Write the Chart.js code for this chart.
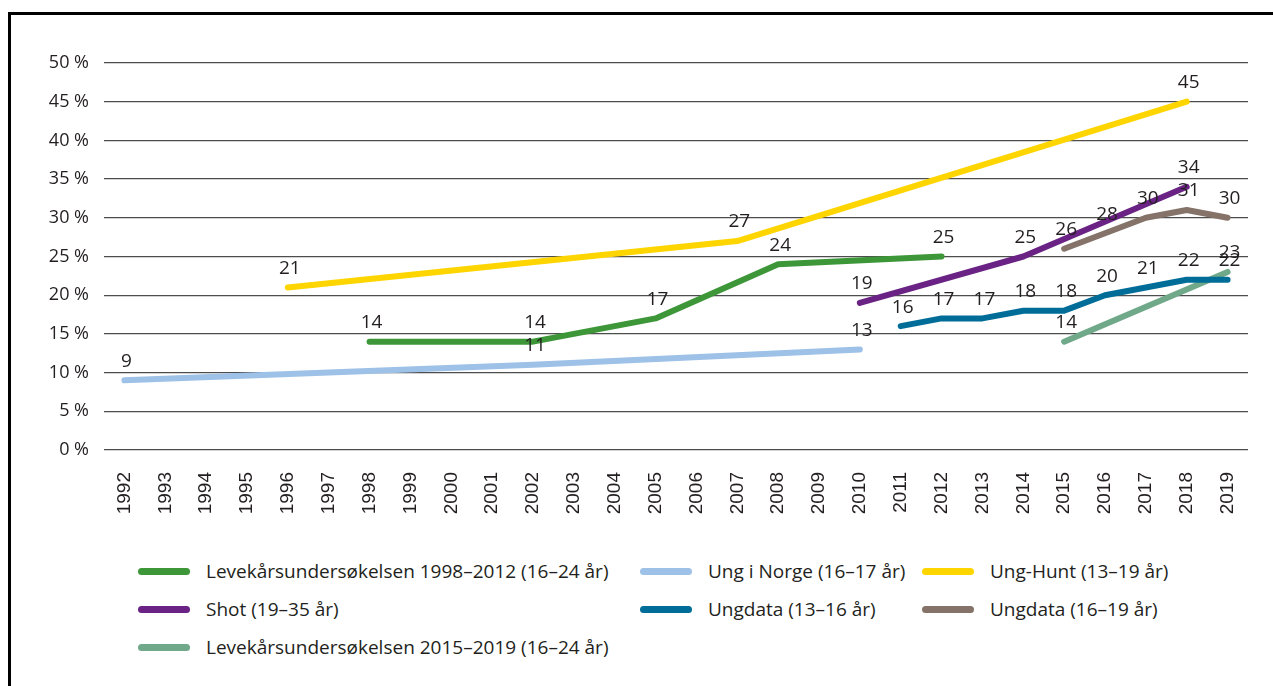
<!DOCTYPE html>
<html>
<head>
<meta charset="utf-8">
<script src="https://cdn.jsdelivr.net/npm/chart.js@4/dist/chart.umd.min.js"></script>
<style>
  html, body { margin: 0; padding: 0; background: #fff; }
  body { width: 1273px; height: 686px; position: relative; overflow: hidden; font-family: "Open Sans", sans-serif; }
  #frame { position: absolute; left: 8px; top: 12px; right: -10px; bottom: -10px; border-left: 3px solid #000; border-top: 3px solid #000; }
  #chart { position: absolute; left: 0; top: 0; }
  .leg { position: absolute; display: flex; align-items: center; font-size: 19px; color: #231f20; white-space: nowrap; }
  .leg i { display: inline-block; width: 52px; height: 7px; border-radius: 4px; margin-right: 16px; }
</style>
</head>
<body>
<div id="frame"></div>
<canvas id="chart" width="1273" height="540"></canvas>
<div id="legend"></div>
<script>
// årstall på x-aksen
const years = [];
for (let y = 1992; y <= 2019; y++) years.push(String(y));

// serier (null = ingen måling)
const seriesNames = [
  'Levekårsundersøkelsen 1998–2012 (16–24 år)',
  'Ung i Norge (16–17 år)',
  'Ung-Hunt (13–19 år)',
  'Shot (19–35 år)',
  'Ungdata (13–16 år)',
  'Ungdata (16–19 år)',
  'Levekårsundersøkelsen 2015–2019 (16–24 år)',
];
const seriesColors = ['#3d9638', '#9dc1e7', '#ffd500', '#6a2384', '#006d98', '#85736a', '#70a98a'];

// verdier per år, som lest av figuren
const levekar1998 = { 1998: 14, 2002: 14, 2005: 17, 2008: 24, 2012: 25 };
const ungINorge = { 1992: 9, 2002: 11, 2010: 13 };
const ungHunt = { 1996: 21, 2007: 27, 2018: 45 };
const shot = { 2010: 19, 2014: 25, 2018: 34 };
const ungdata1316 = { 2011: 16, 2012: 17, 2013: 17, 2014: 18, 2015: 18, 2016: 20, 2017: 21, 2018: 22, 2019: 22 };
const ungdata1619 = { 2015: 26, 2016: 28, 2017: 30, 2018: 31, 2019: 30 };
const levekar2015 = { 2015: 14, 2019: 23 };

const seriesValues = [levekar1998, ungINorge, ungHunt, shot, ungdata1316, ungdata1619, levekar2015];

const yTicks = [0, 5, 10, 15, 20, 25, 30, 35, 40, 45, 50];

const textColor = '#231f20';
const labelFont = '19px "Open Sans", sans-serif';

// datapunkt-etiketter over linjene
const valueLabels = {
  id: 'valueLabels',
  afterDatasetsDraw(chart) {
    const ctx = chart.ctx;
    ctx.save();
    ctx.font = labelFont;
    ctx.fillStyle = textColor;
    ctx.textAlign = 'center';
    ctx.textBaseline = 'middle';
    chart.data.datasets.forEach((ds, i) => {
      const meta = chart.getDatasetMeta(i);
      meta.data.forEach((pt, j) => {
        const v = ds.data[j];
        if (v == null) return;
        ctx.fillText(String(v), pt.x + 2, pt.y - 19);
      });
    });
    ctx.restore();
  }
};

const datasets = seriesNames.map((name, i) => ({
  label: name,
  data: years.map(y => seriesValues[i][y] ?? null),
  borderColor: seriesColors[i],
  backgroundColor: seriesColors[i],
  borderWidth: 6,
  borderCapStyle: 'round',
  borderJoinStyle: 'round',
  pointRadius: 0,
  spanGaps: true,
  tension: 0,
}));

new Chart(document.getElementById('chart'), {
  type: 'line',
  data: { labels: years, datasets },
  options: {
    responsive: false,
    devicePixelRatio: 1,
    animation: false,
    layout: { padding: { top: 63, right: 25, left: 0, bottom: 0 } },
    plugins: {
      legend: { display: false },
      tooltip: { enabled: false },
    },
    scales: {
      x: {
        type: 'category',
        offset: true,
        grid: { display: false, drawTicks: false },
        border: { display: false },
        ticks: {
          autoSkip: false,
          maxRotation: 90,
          minRotation: 90,
          padding: 22,
          color: textColor,
          font: { family: '"Liberation Sans", Arial, sans-serif', size: 19 },
        },
        afterFit: s => { s.height = 90; },
      },
      y: {
        min: 0,
        max: 50,
        afterBuildTicks: s => { s.ticks = yTicks.map(v => ({ value: v })); },
        grid: { color: '#4d4d4d', lineWidth: 1.3, drawTicks: false },
        border: { display: false },
        ticks: {
          padding: 15,
          color: textColor,
          font: { family: '"Open Sans", sans-serif', size: 18 },
          callback: v => v + ' %',
        },
        afterFit: s => { s.width = 104; },
      },
    },
  },
  plugins: [valueLabels],
});

// forklaring i tre kolonner
const legCols = [138, 640, 922];
const legRows = [571, 609, 647];
const legend = document.getElementById('legend');
seriesNames.forEach((name, i) => {
  const el = document.createElement('div');
  el.className = 'leg';
  el.style.left = legCols[i % 3] + 'px';
  el.style.top = (legRows[Math.floor(i / 3)] - 13) + 'px';
  el.style.height = '26px';
  el.innerHTML = `<i style="background:${seriesColors[i]}"></i>${name}`;
  legend.appendChild(el);
});
</script>
</body>
</html>
